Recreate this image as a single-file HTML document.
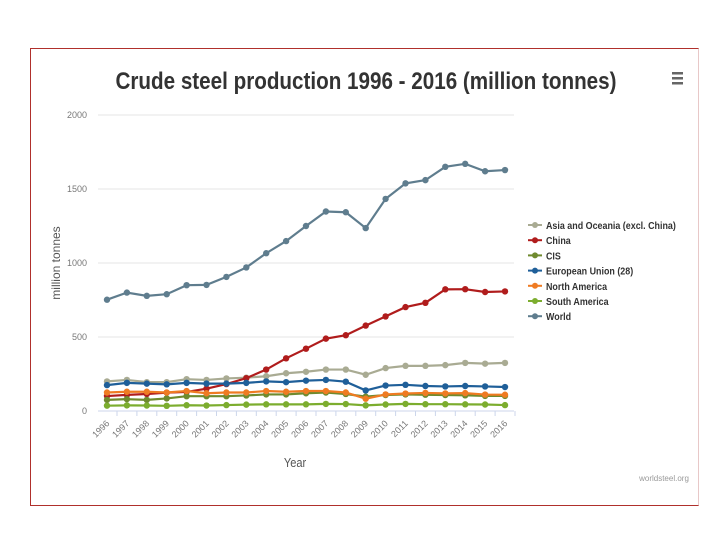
<!DOCTYPE html>
<html><head><meta charset="utf-8"><style>
body{margin:0;width:720px;height:540px;background:#fff;overflow:hidden;font-family:"Liberation Sans",sans-serif}
#frame{position:absolute;left:30px;top:48px;width:669px;height:458px;border:1px solid #b0302c;border-right-color:#e8c8c8;box-sizing:border-box}
</style></head><body>
<div id="frame"></div>
<svg id="c" width="720" height="540" style="position:absolute;left:0;top:0">
<text x="366" y="89" text-anchor="middle" font-size="24" font-weight="bold" fill="#333" transform="translate(366,0) scale(0.86,1) translate(-366,0)">Crude steel production 1996 - 2016 (million tonnes)</text>
<g fill="#666"><rect x="672" y="72" width="11" height="2.5"/><rect x="672" y="77" width="11" height="2.5"/><rect x="672" y="82" width="11" height="2.5"/></g>
<text x="664" y="481" text-anchor="middle" font-size="8" fill="#999">worldsteel.org</text>
<text x="295" y="467" text-anchor="middle" font-size="13" fill="#555" transform="translate(295,0) scale(0.85,1) translate(-295,0)">Year</text>
<text transform="translate(60,263) rotate(-90)" text-anchor="middle" font-size="12" fill="#555">million tonnes</text>
<g id="grid"></g><g id="series"></g><g id="legend"></g>
</svg>
<script>
const years=[1996,1997,1998,1999,2000,2001,2002,2003,2004,2005,2006,2007,2008,2009,2010,2011,2012,2013,2014,2015,2016];
const yTicks=[0,500,1000,1500,2000];
const names=["Asia and Oceania (excl. China)","China","CIS","European Union (28)","North America","South America","World"];
const colors=["#a9ab93","#b01c1c","#6f8a2e","#1f5f99","#ef7b22","#7cad2e","#5f7d8e"];
const asia=[200,210,195,195,215,210,220,225,235,255,265,280,280,245,290,305,305,310,325,320,325];
const china=[101,109,115,124,129,151,182,222,280,356,421,489,512,577,639,702,731,822,823,804,808];
const cis=[75,80,75,85,100,100,100,105,112,112,120,125,115,97,108,112,110,108,106,102,102];
const eu=[175,190,185,180,190,185,185,190,200,195,205,210,198,139,172,177,169,166,169,166,162];
const na=[125,130,130,125,135,120,125,125,135,130,135,135,125,83,112,118,122,119,121,111,110];
const sa=[36,38,37,35,39,37,40,43,45,45,45,48,47,38,44,48,46,46,45,44,40];
const world=[752,800,778,789,850,852,906,970,1066,1148,1250,1348,1343,1236,1433,1538,1560,1650,1670,1620,1628];
const seriesData=[asia,china,cis,eu,na,sa,world];
const NS="http://www.w3.org/2000/svg";
const X0=107,X1=505,Y0=411,Y1=115,PL=98,PR=514;
const xs=i=>X0+(X1-X0)*i/(years.length-1);
const ys=v=>Y0-(Y0-Y1)*v/2000;
function mk(t,a,p){const e=document.createElementNS(NS,t);for(const k in a)e.setAttribute(k,a[k]);p.appendChild(e);return e;}
const grid=document.getElementById('grid');
yTicks.forEach(v=>{
 const l=mk('line',{x1:PL,x2:PR,y1:ys(v),y2:ys(v),stroke:v?'#e6e6e6':'#ccd6eb','stroke-width':1},grid);
 
 
 const t=mk('text',{x:87,y:ys(v)+3,'text-anchor':'end','font-size':9,fill:'#777'},grid);
 t.textContent=v;
 
 
});
years.forEach((y,i)=>{
 const x=xs(i);
 const tk=mk('line',{x1:x+10,x2:x+10,y1:Y0,y2:Y0+5,stroke:'#ccd6eb'},grid);
 
 
 const t=mk('text',{x:x+3,y:Y0+13,'text-anchor':'end','font-size':9,fill:'#777',transform:`rotate(-45 ${x+3} ${Y0+13})`},grid);
 t.textContent=y;
 
 
});
const sg=document.getElementById('series');
seriesData.forEach((d,s)=>{
 const g=mk('g',{},sg);
 
 
 const pts=d.map((v,i)=>xs(i)+','+ys(v)).join(' ');
 mk('polyline',{points:pts,fill:'none',stroke:colors[s],'stroke-width':2.2},g);
 d.forEach((v,i)=>{
  const p=mk('circle',{cx:xs(i),cy:ys(v),r:3.2,fill:colors[s]},g);
  
  
 });
});
const lg=document.getElementById('legend');
names.forEach((n,s)=>{
 const y=225+s*15.2;
 const g=mk('g',{},lg);
 
 
 mk('line',{x1:528,x2:542,y1:y,y2:y,stroke:colors[s],'stroke-width':2},g);
 mk('circle',{cx:535,cy:y,r:3,fill:colors[s]},g);
 const t=mk('text',{x:546,y:y+4,'font-size':10.5,'font-weight':'bold',fill:'#333',transform:`translate(546,0) scale(0.85,1) translate(-546,0)`},g);
 t.textContent=n;
});
</script>
</body></html>
